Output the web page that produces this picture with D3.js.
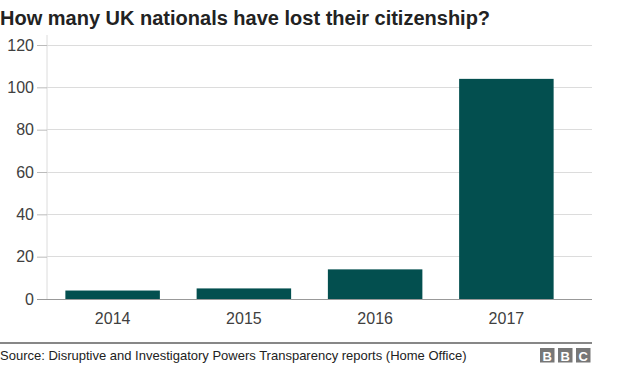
<!DOCTYPE html>
<html><head><meta charset="utf-8">
<script src="https://cdn.jsdelivr.net/npm/d3@7"></script>
<style>body{margin:0;background:#fff;}svg{display:block;font-family:"Liberation Sans",Arial,Helvetica,sans-serif;}</style>
</head><body>
<script>
const title = "How many UK nationals have lost their citizenship?";
const source = "Source: Disruptive and Investigatory Powers Transparency reports (Home Office)";
const years = ["2014", "2015", "2016", "2017"];
const counts = [4, 5, 14, 104];
const yTicks = [0, 20, 40, 60, 80, 100, 120];

const W = 624, H = 367;
const svg = d3.select("body").append("svg").attr("width", W).attr("height", H);

svg.append("text").attr("x", 0).attr("y", 25).attr("font-size", 20).attr("font-weight", "bold")
  .attr("fill", "#222").text(title);

const x = d3.scaleBand().domain(years).range([47, 572]).paddingInner(0.28).paddingOuter(0.14);
const y = d3.scaleLinear().domain([0, 120]).range([299, 45]);

// grid
svg.append("g").selectAll("line").data(yTicks.filter(d => d > 0)).join("line")
  .attr("x1", 47).attr("x2", 592).attr("y1", d => y(d)).attr("y2", d => y(d))
  .attr("stroke", "#dcdcdc").attr("stroke-width", 1).attr("shape-rendering", "crispEdges");
// y axis
const ya = svg.append("g").attr("transform", "translate(47,0)")
  .call(d3.axisLeft(y).tickValues(yTicks).tickSize(10).tickPadding(3));
ya.select(".domain").attr("stroke", "#dcdcdc").attr("d", `M0,${y(120)-10}V${y(0)}`);
ya.selectAll(".tick line").attr("stroke", "#bbb");
ya.selectAll(".tick text").attr("font-size", 16).attr("fill", "#404040").attr("font-family", "Liberation Sans, Arial, sans-serif");

// bars
svg.append("g").selectAll("rect").data(years).join("rect")
  .attr("x", d => x(d)).attr("width", x.bandwidth())
  .attr("y", (d, i) => y(counts[i])).attr("height", (d, i) => y(0) - y(counts[i]))
  .attr("fill", "#034f4f");

// baseline
svg.append("line").attr("x1", 37).attr("x2", 592).attr("y1", y(0)).attr("y2", y(0))
  .attr("stroke", "#999").attr("shape-rendering", "crispEdges");

// x axis labels
const xa = svg.append("g").attr("transform", `translate(0,${y(0)})`)
  .call(d3.axisBottom(x).tickSize(0).tickPadding(14));
xa.select(".domain").remove();
xa.selectAll(".tick text").attr("font-size", 16).attr("fill", "#404040").attr("font-family", "Liberation Sans, Arial, sans-serif");

// footer
svg.append("line").attr("x1", 0).attr("x2", 592).attr("y1", 343).attr("y2", 343)
  .attr("stroke", "#111").attr("stroke-width", 1.2);
svg.append("text").attr("x", 0).attr("y", 360).attr("font-size", 13).attr("fill", "#222").text(source);

const logo = svg.append("g");
["B", "B", "C"].forEach((c, i) => {
  const lx = 540 + i * 18;
  logo.append("rect").attr("x", lx).attr("y", 348).attr("width", 14.5).attr("height", 14.5).attr("fill", "#777");
  logo.append("text").attr("x", lx + 7.25).attr("y", 360.5).attr("text-anchor", "middle")
    .attr("font-size", 13).attr("font-weight", "bold").attr("fill", "#fff").text(c);
});
</script>
</body></html>
